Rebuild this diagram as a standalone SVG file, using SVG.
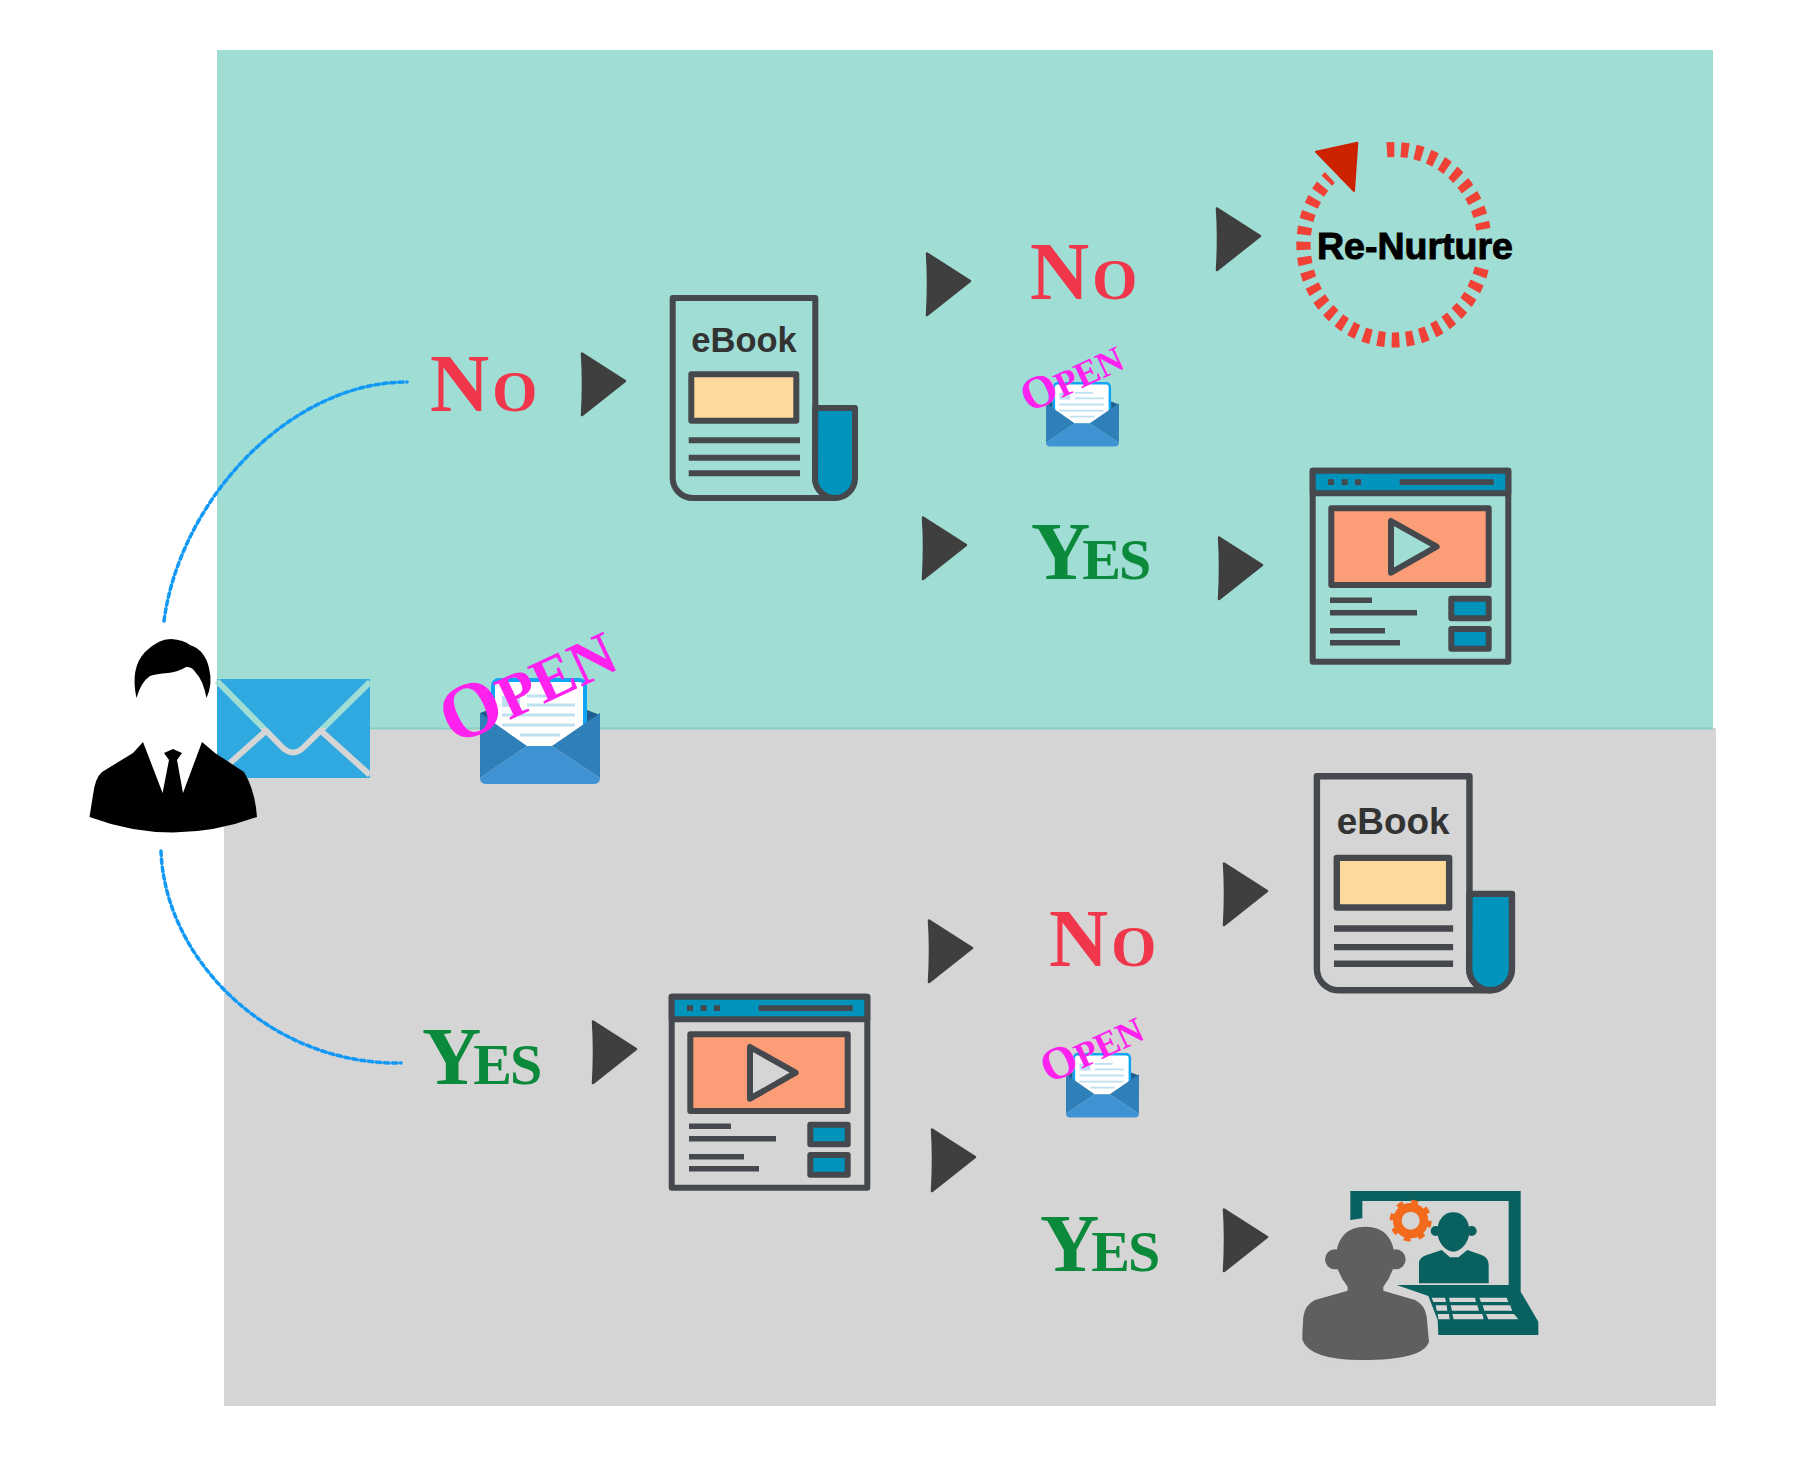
<svg xmlns="http://www.w3.org/2000/svg" xmlns:xlink="http://www.w3.org/1999/xlink" width="1814" height="1467" viewBox="0 0 1814 1467">
<style>
.lab{font-family:"Liberation Serif","Times New Roman",serif;font-weight:700}
.big{font-size:82px}.sm{font-size:58px}
.no{fill:#f0364a}.yes{fill:#0b8a3c}
.open{font-family:"Liberation Serif","Times New Roman",serif;font-weight:700;fill:#ff22ee}
.ln{fill:none;stroke:#45484d;stroke-width:6;stroke-linejoin:round}
.bar{stroke:#45484d;stroke-width:6}
.blue{fill:#0093bc}
.curve{fill:none;stroke:#1199f5;stroke-width:3.5;stroke-dasharray:4.500 3.500;stroke-linecap:round}
</style>
<defs>
<linearGradient id="envline" gradientUnits="userSpaceOnUse" x1="0" y1="679" x2="0" y2="778">
<stop offset="0.495" stop-color="#a0ddd5"/><stop offset="0.495" stop-color="#d5d5d5"/>
</linearGradient>
<g id="arrow"><path d="M1 1.500L44 29L1 63Q3 30 1 1.500Z" fill="#3f3f3f" stroke="#3f3f3f" stroke-width="2.500" stroke-linejoin="round"/></g>
<g id="openenv">
<path d="M0 35L11 31V60H0Z" fill="#1f5f8f"/>
<path d="M107 32L120 37V60H107Z" fill="#1f5f8f"/>
<rect x="11" y="0" width="96" height="60" rx="8" fill="#0ea5f5"/>
<path d="M15 8Q15 4 19 4H99Q103 4 103 8V50L72 68H47L15 50Z" fill="#fff"/>
<g fill="none" stroke="#bfe0f0" stroke-width="3"><path d="M47 18H77M47 27H95M22 37H95M22 47H95M40 57H80"/></g>
<rect x="22" y="18" width="18" height="11" fill="#bfe0f0"/>
<path d="M0 35L47 68L0 100Z" fill="#2f7fb8"/>
<path d="M120 35L72 68L120 100Z" fill="#2f7fb8"/>
<path d="M0 100L47 68H72L120 100Q120 106 113 106H7Q0 106 0 100Z" fill="#3f93d2"/>
</g>
<g id="ebook">
<path class="ln" d="M2.700 3H145.300V183a20 20 0 0 0 20 20H23a20 20 0 0 1-20.300-20Z"/>
<path class="blue" d="M145.300 113H185V183a20 20 0 0 1-40 0Z" stroke="#45484d" stroke-width="6" stroke-linejoin="round"/>
<text x="74" y="57" text-anchor="middle" font-family="Liberation Sans, Arial, sans-serif" font-weight="700" font-size="34.500" fill="#333">eBook</text>
<rect x="21.300" y="79.300" width="105" height="46.400" fill="#ffd99b" stroke="#45484d" stroke-width="6" stroke-linejoin="round"/>
<path class="bar" d="M18.700 145.300H130M18.700 162.700H130M18.700 178.300H130"/>
</g>
<g id="video">
<rect x="2.700" y="2.700" width="195.600" height="191" class="ln"/>
<rect x="2.700" y="2.700" width="195.600" height="22.600" class="blue" stroke="#45484d" stroke-width="6" stroke-linejoin="round"/>
<path d="M18 11.300h6v5.700h-6zM31.700 11.300h6v5.700h-6zM45 11.300h6v5.700h-6zM89.700 11.300h94v5.700h-94z" fill="#45484d"/>
<path d="M21.300 40.300H178.700V117H21.300ZM81 53V104.700L126.700 78.700Z" fill="#fb9d76" fill-rule="evenodd"/>
<path class="ln" d="M21.300 40.300H178.700V117H21.300ZM81 53V104.700L126.700 78.700Z"/>
<path d="M20 132.300H62M20 144.700H107M20 162.700H75M20 174.700H90" stroke="#45484d" stroke-width="5.500"/>
<rect x="141.300" y="130.700" width="37.400" height="19.600" class="blue" stroke="#45484d" stroke-width="6" stroke-linejoin="round"/>
<rect x="141.300" y="161" width="37.400" height="19.700" class="blue" stroke="#45484d" stroke-width="6" stroke-linejoin="round"/>
</g>
</defs>

<rect id="panel-top" x="217" y="50" width="1496" height="678" fill="#a0ddd5"/>
<rect id="panel-bottom" x="224" y="728" width="1492" height="678" fill="#d5d5d5"/>
<path d="M217 728.500H1713" stroke="#8ccdc4" stroke-width="2"/>

<g id="connectors">
<path class="curve" d="M164 621C180 500 290 382 407 382"/>
<path class="curve" d="M161 851C165 960 270 1065 401 1063"/>
<use href="#arrow" transform="translate(581,352)"/>
<use href="#arrow" transform="translate(926,252)"/>
<use href="#arrow" transform="translate(922,516)"/>
<use href="#arrow" transform="translate(1216,207)"/>
<use href="#arrow" transform="translate(1218,536)"/>
<use href="#arrow" transform="translate(592,1020)"/>
<use href="#arrow" transform="translate(928,919)"/>
<use href="#arrow" transform="translate(931,1128)"/>
<use href="#arrow" transform="translate(1223,862)"/>
<use href="#arrow" transform="translate(1223,1208)"/>
</g>

<g id="email">
<rect x="217" y="679" width="153" height="99" fill="#2fa9e0"/>
<path d="M217 681L282 747Q293 758 304 747L370 682M267 730L230 763M320 730L370 775" fill="none" stroke="url(#envline)" stroke-width="6"/>
</g>

<g id="person">
<path d="M136.500 698Q130 668 145 652Q158 639 171 639Q184 640 190 645Q205 650 209 668Q213 684 206.500 698Q203 680 196 673Q192 666 186 667Q178 672 168 673Q156 674 150 676Q141 682 136.500 698Z" fill="#000"/>
<path d="M143 742L133 753L102 772Q95 778 93 795L89.500 817Q173 848 257 817Q255 790 244 772L215 753L202 742L183 793L177 760L182 753L173 749L164 753L169 760L162.600 793Z" fill="#000"/>
</g>

<g id="open-main">
<use href="#openenv" transform="translate(480,678)"/>
<text class="open" transform="translate(454,746) rotate(-25)"><tspan font-size="78">O</tspan><tspan font-size="62">PEN</tspan></text>
</g>
<g id="no-1"><text class="lab no" x="430" y="411"><tspan class="big">N</tspan><tspan class="sm" dx="3">O</tspan></text></g>
<g id="ebook-1"><use href="#ebook" transform="translate(670,295)"/></g>
<g id="no-2"><text class="lab no" x="1030" y="299"><tspan class="big">N</tspan><tspan class="sm" dx="3">O</tspan></text></g>
<g id="open-2">
<use href="#openenv" transform="translate(1046,382) scale(.608)"/>
<text class="open" transform="translate(1029,413) rotate(-25)"><tspan font-size="46">O</tspan><tspan font-size="36">PEN</tspan></text>
</g>
<g id="yes-1"><text class="lab yes" x="1031" y="579"><tspan class="big">Y</tspan><tspan class="sm" dx="-8">E</tspan><tspan class="sm" dx="-2">S</tspan></text></g>
<g id="video-1"><use href="#video" transform="translate(1310,468)"/></g>
<g id="renurture">
<g transform="translate(1394,244.700) scale(.95,1)" fill="none" stroke="#ef4136" stroke-width="15">
<path pathLength="85.200" stroke-dasharray="4.800 4.200" d="M-7.500-95A95.300 95.300 0 0 1 94.050-15.400"/>
<path pathLength="210.500" stroke-dasharray="4.800 4.230" d="M92.300 23.700A95.300 95.300 0 1 1-67.500-67.300"/>
</g>
<path d="M1316 151.700L1357.300 142.700L1354 191Z" fill="#cc2200" stroke="#cc2200" stroke-width="2" stroke-linejoin="round"/>
<text x="1317" y="259" font-family="Liberation Sans, Arial, sans-serif" font-weight="700" font-size="37.500" stroke="#000" stroke-width="1" fill="#000">Re-Nurture</text>
</g>
<g id="yes-2"><text class="lab yes" x="422" y="1084"><tspan class="big">Y</tspan><tspan class="sm" dx="-8">E</tspan><tspan class="sm" dx="-2">S</tspan></text></g>
<g id="video-2"><use href="#video" transform="translate(669,994)"/></g>
<g id="no-3"><text class="lab no" x="1049" y="966"><tspan class="big">N</tspan><tspan class="sm" dx="3">O</tspan></text></g>
<g id="ebook-2"><use href="#ebook" transform="translate(1314,773) scale(1.07)"/></g>
<g id="open-3">
<use href="#openenv" transform="translate(1066,1053) scale(.608)"/>
<text class="open" transform="translate(1049,1084) rotate(-25)"><tspan font-size="46">O</tspan><tspan font-size="36">PEN</tspan></text>
</g>
<g id="yes-3"><text class="lab yes" x="1040" y="1271"><tspan class="big">Y</tspan><tspan class="sm" dx="-8">E</tspan><tspan class="sm" dx="-2">S</tspan></text></g>
<g id="webinar" transform="translate(1290,1170) scale(.33333)">
<path fill="#08605f" d="M181 150V63H692V365L745 455V495H445L443 450L415 378L320 345H656V93H217V145Z"/>
<path fill="#d5d5d5" d="M425 383H465L468 396H430ZM477 383H555L558 396H480ZM568 383H650L655 396H573ZM437 406H470L472 422H440ZM482 406H562L567 422H486ZM578 406H660L667 422H583ZM443 432H477L479 448H445ZM487 432H577L581 448H491ZM588 432H672L685 448H595Z"/>
<path fill="#08605f" d="M442 183C442 150 462 127 490 127C518 127 538 150 538 183C538 220 510 245 490 245C470 245 442 220 442 183Z"/>
<circle cx="437" cy="183" r="15" fill="#08605f"/><circle cx="545" cy="183" r="15" fill="#08605f"/>
<path fill="#08605f" d="M387 340V275Q390 262 410 255L455 240L480 262H505L532 240L575 255Q595 262 596 285V340Z"/>
<circle cx="362" cy="152" r="40" fill="none" stroke="#f26b1d" stroke-width="26"/>
<circle cx="362" cy="152" r="57" fill="none" stroke="#f26b1d" stroke-width="12" stroke-dasharray="20 24.770"/>
<path fill="#5f5f5f" stroke="#d5d5d5" stroke-width="20" paint-order="stroke" stroke-linejoin="round" d="M37 490L40 440Q45 405 75 390L173 362V350Q148 320 138 280C135 205 170 170 226 170C282 170 317 205 314 280Q304 320 280 350V362L375 390Q405 405 410 440L417 515Q400 570 215 570Q60 570 37 510ZM105 268a30 30 0 1 1 60 0a30 30 0 1 1-60 0ZM287 268a30 30 0 1 1 60 0a30 30 0 1 1-60 0Z"/>
</g>
</svg>
